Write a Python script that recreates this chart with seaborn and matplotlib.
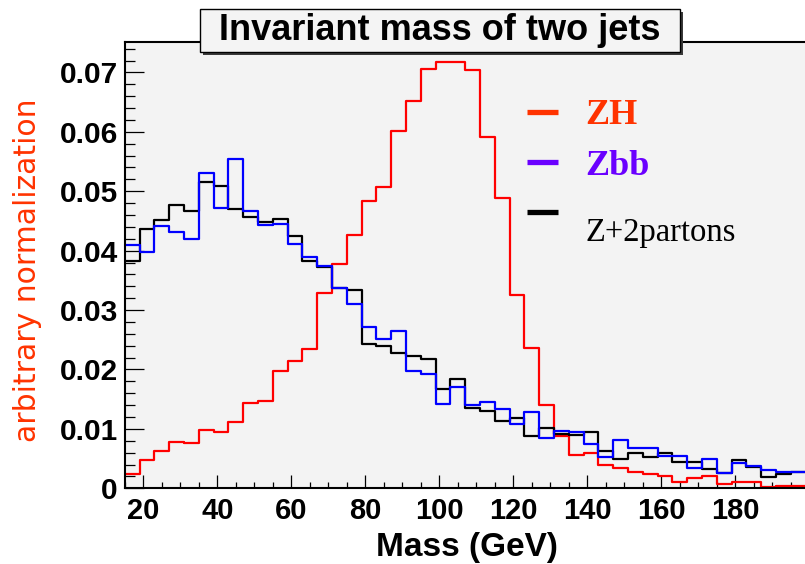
import numpy as np
import pandas as pd
import matplotlib
matplotlib.use("Agg")
import matplotlib.pyplot as plt
import seaborn as sns
from matplotlib.patches import Rectangle
from matplotlib.lines import Line2D
from matplotlib.ticker import MultipleLocator, FuncFormatter

# ---------------- data (bin width 4 GeV, from 15 to 199 GeV) ----------------
bin_edges = [15 + 4 * k for k in range(47)]

zh = [0.24, 0.47, 0.63, 0.78, 0.76, 0.98, 0.95, 1.12, 1.43, 1.47,
      1.98, 2.15, 2.34, 3.29, 3.78, 4.26, 4.83, 5.07, 6.02, 6.52,
      7.05, 7.17, 7.17, 7.04, 5.92, 4.88, 3.25, 2.36, 1.41, 0.88,
      0.56, 0.60, 0.39, 0.35, 0.28, 0.24, 0.20, 0.10, 0.18, 0.21,
      0.07, 0.11, 0.10, 0.02, 0.04, 0.04]

zbb = [4.09, 3.98, 4.41, 4.32, 4.19, 5.31, 4.71, 5.55, 4.67, 4.43,
       4.45, 4.12, 3.90, 3.74, 3.37, 3.11, 2.71, 2.51, 2.64, 1.98,
       1.92, 1.42, 1.70, 1.40, 1.46, 1.33, 1.08, 1.29, 0.84, 0.97,
       0.94, 0.75, 0.52, 0.81, 0.67, 0.68, 0.55, 0.55, 0.35, 0.49,
       0.25, 0.42, 0.37, 0.31, 0.28, 0.27]

z2p = [3.83, 4.36, 4.52, 4.76, 4.67, 5.15, 5.08, 4.70, 4.56, 4.48,
       4.53, 4.24, 3.83, 3.73, 3.37, 3.33, 2.43, 2.39, 2.28, 2.22,
       2.18, 1.67, 1.84, 1.35, 1.30, 1.14, 1.18, 0.88, 1.01, 0.91,
       0.90, 0.94, 0.63, 0.49, 0.59, 0.53, 0.59, 0.45, 0.45, 0.33,
       0.25, 0.48, 0.36, 0.19, 0.24, 0.28]

series_names = ["ZH", "Zbb", "Z+2partons"]
x_ticks = [20, 40, 60, 80, 100, 120, 140, 160, 180]
y_ticks = [0, 0.01, 0.02, 0.03, 0.04, 0.05, 0.06, 0.07]

centers = [(bin_edges[i] + bin_edges[i + 1]) / 2 for i in range(len(bin_edges) - 1)]
rows = []
for name, vals in zip(series_names, [zh, zbb, z2p]):
    for c, v in zip(centers, vals):
        rows.append({"mass": c, "w": v / 100.0, "sample": name})
df = pd.DataFrame(rows)

# ---------------- figure ----------------
W, H = 805, 564
fig = plt.figure(figsize=(W / 100, H / 100), dpi=100)
fig.patch.set_facecolor("white")

ax_left, ax_right, ax_top, ax_bot = 124.8, 809.3, 41.5, 488.3
ax = fig.add_axes([ax_left / W, 1 - ax_bot / H, (ax_right - ax_left) / W, (ax_bot - ax_top) / H])
ax.set_facecolor("#f3f3f3")

hist_colors = {"ZH": "#ff0000", "Zbb": "#0000ff", "Z+2partons": "#000000"}
for name in ["ZH", "Z+2partons", "Zbb"]:
    sub = df[df["sample"] == name]
    sns.histplot(data=sub, x="mass", weights="w", bins=list(bin_edges), element="step",
                 fill=False, color=hist_colors[name], linewidth=1.6, ax=ax)

ax.set_xlim(15, 200)
ax.set_ylim(0, 0.0752)

for side in ["left", "bottom", "top", "right"]:
    ax.spines[side].set_linewidth(1.5)
    ax.spines[side].set_color("black")

ax.set_xticks(x_ticks)
ax.set_yticks(y_ticks)
ax.xaxis.set_minor_locator(MultipleLocator(5))
ax.yaxis.set_minor_locator(MultipleLocator(0.002))
ax.yaxis.set_major_formatter(FuncFormatter(lambda v, p: "0" if abs(v) < 1e-9 else f"{v:.2f}"))
ax.xaxis.set_major_formatter(FuncFormatter(lambda v, p: f"{v:.0f}"))
ax.tick_params(axis="y", which="major", direction="in", length=14, width=0.9, pad=5,
               labelsize=21.5)
ax.tick_params(axis="y", which="minor", direction="in", length=7.5, width=0.9)
ax.tick_params(axis="x", which="major", direction="in", length=9.5, width=0.9, pad=6,
               labelsize=21)
ax.tick_params(axis="x", which="minor", direction="in", length=4.5, width=0.9)
for lab in ax.get_xticklabels() + ax.get_yticklabels():
    lab.set_fontfamily("Liberation Sans")
    lab.set_fontweight("bold")

ax.set_xlabel("Mass (GeV)", fontsize=24, fontweight="bold", family="Liberation Sans",
              labelpad=5)
ax.set_ylabel("")
fig.text(28 / W, 1 - 270 / H, "arbitrary normalization", rotation=90, color="#ff3300",
         fontsize=21.5, family="DejaVu Sans", ha="center", va="center")

# ---------------- legend ----------------
handles = [
    Line2D([], [], color="#ff3300", linewidth=3.8, solid_capstyle="butt"),
    Line2D([], [], color="#6a00ff", linewidth=3.8, solid_capstyle="butt"),
    Line2D([], [], color="#000000", linewidth=3.8, solid_capstyle="butt"),
]
leg = ax.legend(handles, series_names, loc="upper left",
                bbox_to_anchor=(527 / W, 1 - 99 / H), bbox_transform=fig.transFigure,
                frameon=False, fontsize=26, handlelength=0.86, handletextpad=0.75,
                labelspacing=0.47, borderpad=0, borderaxespad=0)
leg_styles = [("#ff3300", "bold", 26), ("#6a00ff", "bold", 26), ("#000000", "normal", 23.5)]
for t, (c, wgt, fs) in zip(leg.get_texts(), leg_styles):
    t.set_color(c)
    t.set_fontweight(wgt)
    t.set_fontfamily("Liberation Serif")
    t.set_fontsize(fs)
leg.get_texts()[2].set_y(-16)

# ---------------- title box ----------------
bx0, by0, bx1, by1 = 200, 9, 680, 52
fig.add_artist(Rectangle(((bx0 + 3) / W, 1 - (by1 + 3) / H), (bx1 - bx0) / W, (by1 - by0) / H,
                         transform=fig.transFigure, facecolor="#3a3a3a", edgecolor="none",
                         zorder=5))
fig.add_artist(Rectangle((bx0 / W, 1 - by1 / H), (bx1 - bx0) / W, (by1 - by0) / H,
                         transform=fig.transFigure, facecolor="#f4f4f4", edgecolor="black",
                         linewidth=1.0, zorder=6))
fig.text((bx0 + bx1) / 2 / W, 1 - (by0 + by1) / 2 / H, "Invariant mass of two jets",
         fontsize=26, fontweight="bold", family="Liberation Sans", ha="center",
         va="center", zorder=7)

fig.savefig("out.png", dpi=100)
